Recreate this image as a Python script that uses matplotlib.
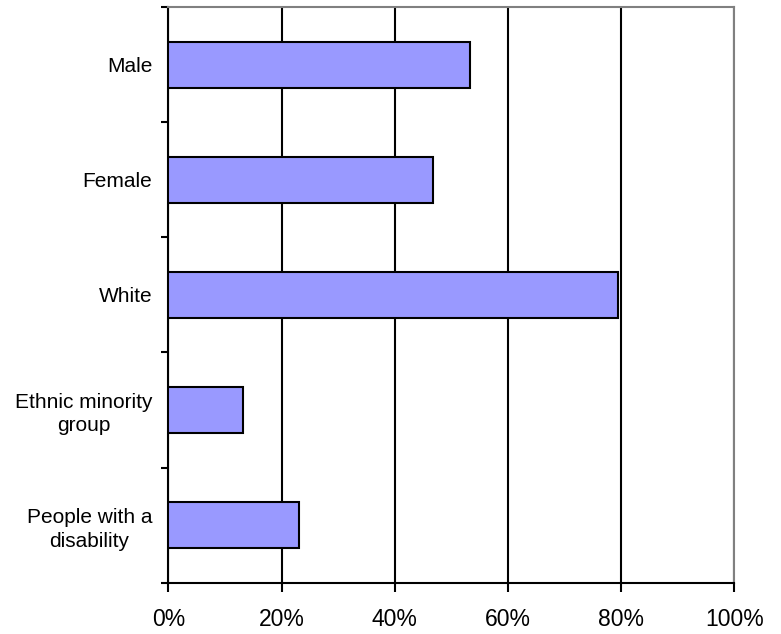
import matplotlib.pyplot as plt

plt.rcParams['font.family'] = ['Liberation Sans', 'DejaVu Sans']

categories = ["Male", "Female", "White", "Ethnic minority\ngroup", "People with a\ndisability"]
values = [53.3, 46.7, 79.5, 13.2, 23.1]
xticks = [0, 20, 40, 60, 80, 100]
xticklabels = ["0%", "20%", "40%", "60%", "80%", "100%"]

fig = plt.figure(figsize=(7.81, 6.34), dpi=100)
ax = fig.add_axes([168.3 / 781, 51.3 / 634, 566 / 781, 575.7 / 634])

pos = list(range(len(categories)))
ax.barh(pos, values, height=0.4, color="#9999ff", edgecolor="black", linewidth=1.5, zorder=3)

ax.set_xlim(0, 100)
ax.set_ylim(len(categories) - 0.5, -0.5)
ax.set_xticks(xticks)
ax.set_xticklabels(xticklabels, fontsize=16.5)
ax.set_yticks(pos)
ax.set_yticklabels(categories, fontsize=15, multialignment="center", linespacing=1.3)
ax.set_yticks([p - 0.5 for p in pos] + [len(categories) - 0.5], minor=True)

ax.tick_params(axis="y", which="major", length=0, pad=11.5)
ax.tick_params(axis="y", which="minor", length=5, width=1.5, direction="out")
ax.tick_params(axis="x", length=6.5, width=1.5, direction="out", pad=12)

ax.xaxis.grid(True, color="black", linewidth=1.5, zorder=0)
ax.set_axisbelow(True)

for s in ["left", "bottom"]:
    ax.spines[s].set_linewidth(1.5)
    ax.spines[s].set_color("black")
for s in ["top", "right"]:
    ax.spines[s].set_linewidth(1.5)
    ax.spines[s].set_color("#808080")

fig.savefig("out.png", dpi=100)
